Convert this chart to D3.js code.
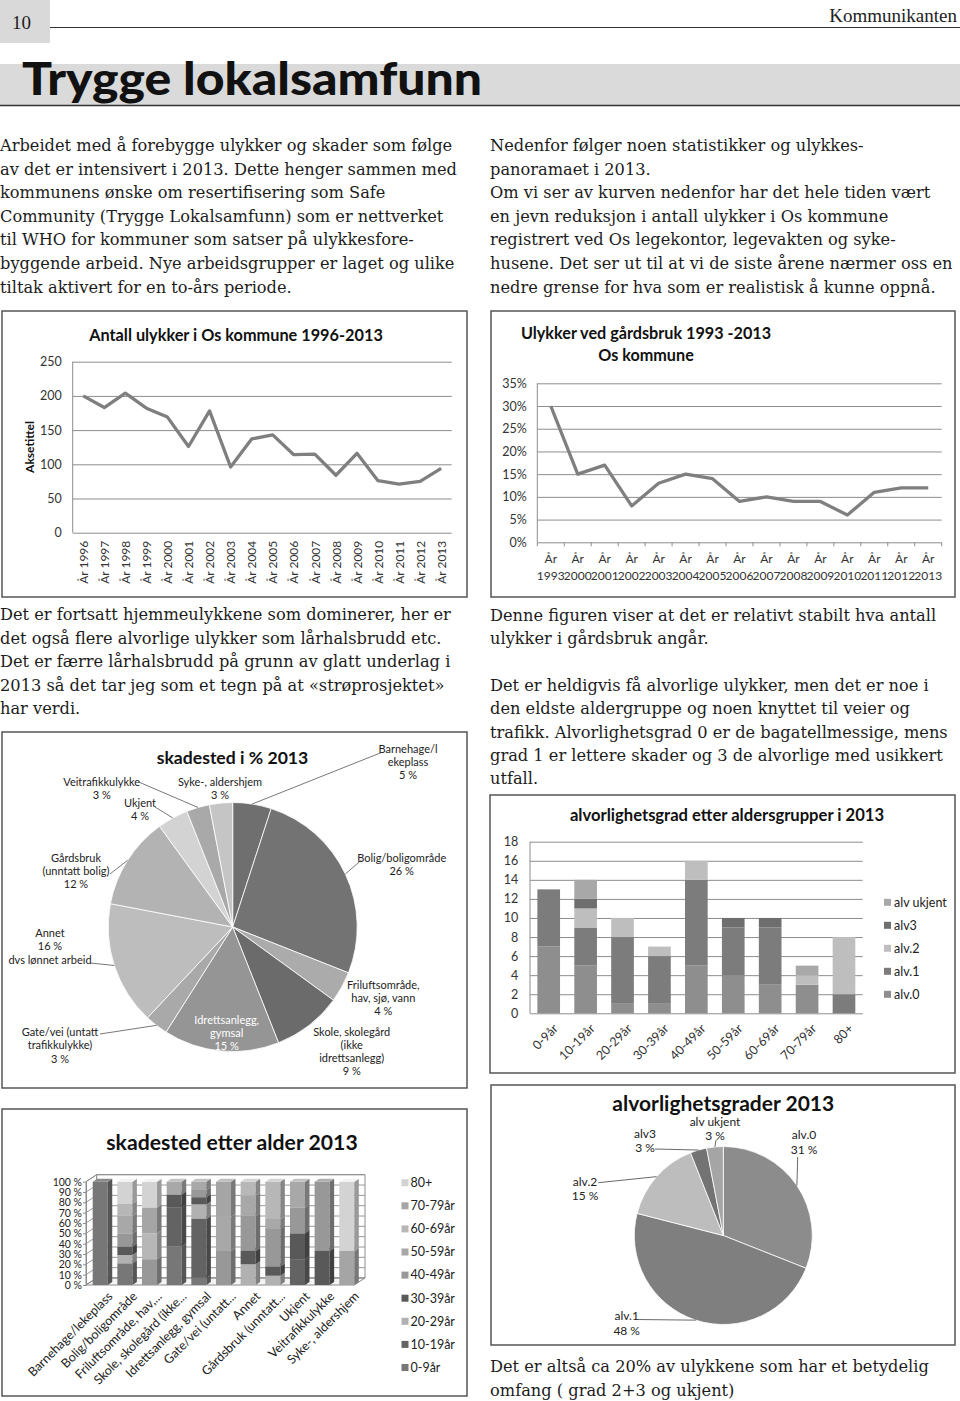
<!DOCTYPE html>
<html>
<head>
<meta charset="utf-8">
<script src="https://cdn.jsdelivr.net/npm/d3@7"></script>
<style>
  body { margin: 0; background: #fff; }
  svg { display: block; }
</style>
</head>
<body>
<script>
// ---------- data ----------
const ulykkerAar = ["År 1996","År 1997","År 1998","År 1999","År 2000","År 2001","År 2002","År 2003","År 2004",
  "År 2005","År 2006","År 2007","År 2008","År 2009","År 2010","År 2011","År 2012","År 2013"];
const ulykkerAntall = [200,183,204,182,169,126,178,96,137,143,114,115,84,116,76,71,75,94];

const gardAar = ["1993","2000","2001","2002","2003","2004","2005","2006","2007","2008","2009","2010","2011","2012","2013"];
const gardProsent = [30,15,17,8,13,15,14,9,10,9,9,6,11,12,12];

const skadesteder = ["Barnehage/lekeplass","Bolig/boligområde","Friluftsområde, hav, sjø, vann",
  "Skole, skolegård (ikke idrettsanlegg)","Idrettsanlegg, gymsal","Gate/vei (untatt trafikkulykke)",
  "Annet","Gårdsbruk (unntatt bolig)","Ukjent","Veitrafikkulykke","Syke-, aldershjem"];
const skadestedProsent = [5,26,4,9,15,3,16,12,4,3,3];
const skadestedEtikett = [["Barnehage/l","ekeplass"],["Bolig/boligområde"],["Friluftsområde,","hav, sjø, vann"],
  ["Skole, skolegård","(ikke","idrettsanlegg)"],["Idrettsanlegg,","gymsal"],["Gate/vei (untatt","trafikkulykke)"],
  ["Annet","%","dvs lønnet arbeid"],["Gårdsbruk","(unntatt bolig)"],["Ukjent"],["Veitrafikkulykke"],["Syke-, aldershjem"]];

const aldersgrupper = ["0-9år","10-19år","20-29år","30-39år","40-49år","50-59år","60-69år","70-79år","80+"];
const alvGrader = ["alv.0","alv.1","alv.2","alv3","alv ukjent"];
const alv0 = [7,5,1,1,5,4,3,3,0];
const alv1 = [6,4,7,5,9,5,6,0,2];
const alv2 = [0,2,2,1,2,0,0,1,6];
const alv3 = [0,1,0,0,0,1,1,0,0];
const alvUkjent = [0,2,0,0,0,0,0,1,0];

const skadestedKort = ["Barnehage/lekeplass","Bolig/boligområde","Friluftsområde, hav,...","Skole, skolegård (ikke...",
  "Idrettsanlegg, gymsal","Gate/vei (untatt...","Annet","Gårdsbruk (unntatt...","Ukjent","Veitrafikkulykke","Syke-, aldershjem"];
// percent of each place by age group
const andel0_9   = [100,21,0,37.5,7,0,0,0,0,0,0];
const andel10_19 = [0,0,0,37.5,57,0,0,0,25,0,0];
const andel20_29 = [0,8,0,0,14,0,20,9,0,0,0];
const andel30_39 = [0,8,0,12.5,7,0,13,9,25,33,0];
const andel40_49 = [0,13,25,0,7,33,34,37,25,67,0];
const andel50_59 = [0,17,0,12.5,8,33,20,9,25,0,0];
const andel60_69 = [0,12,25,0,0,0,13,36,0,0,0];
const andel70_79 = [0,0,25,0,0,34,0,0,0,0,33];
const andel80    = [0,21,25,0,0,0,0,0,0,0,67];

const alvAndel = [31,48,15,3,3];

// ---------- setup ----------
const svg = d3.select("body").append("svg")
    .attr("width", 960)
    .attr("height", 1401)
    .style("background", "#fff");

const sans = "Lato, 'Open Sans', sans-serif";
const serif = "'DejaVu Serif', serif";
const ink = "#1c1c1c";

function frame(x, y, w, h) {
    svg.append("rect").attr("x", x).attr("y", y).attr("width", w).attr("height", h)
        .attr("fill", "none").attr("stroke", "#4a4a4a").attr("stroke-width", 1.4);
}

function title(txt, x, y, size) {
    svg.append("text").attr("x", x).attr("y", y).attr("text-anchor", "middle")
        .attr("dy", "0.35em").attr("fill", "#111")
        .style("font", `bold ${size}px ${sans}`).text(txt);
}

// ---------- page header ----------
svg.append("rect").attr("x", 0).attr("y", 0).attr("width", 50).attr("height", 43).attr("fill", "#d9d9d9");
svg.append("text").attr("x", 12).attr("y", 29).attr("fill", ink)
    .style("font", "19px 'Liberation Serif', serif").text("10");
svg.append("line").attr("x1", 50).attr("x2", 960).attr("y1", 27.5).attr("y2", 27.5)
    .attr("stroke", "#333").attr("stroke-width", 1.2);
svg.append("text").attr("x", 957).attr("y", 22).attr("text-anchor", "end").attr("fill", "#222")
    .style("font", "19px 'Liberation Serif', serif").text("Kommunikanten");

svg.append("rect").attr("x", 0).attr("y", 64).attr("width", 960).attr("height", 41).attr("fill", "#dadada");
svg.append("line").attr("x1", 0).attr("x2", 960).attr("y1", 105.5).attr("y2", 105.5)
    .attr("stroke", "#333").attr("stroke-width", 1.5);
svg.append("text").attr("x", 22).attr("y", 95).attr("fill", "#111")
    .attr("textLength", 460).attr("lengthAdjust", "spacingAndGlyphs")
    .style("font", `900 46px ${sans}`).text("Trygge lokalsamfunn");

// ---------- body text ----------
const tekstVenstre1 = ["Arbeidet med å forebygge ulykker og skader som følge",
  "av det er intensivert i 2013. Dette henger sammen med",
  "kommunens ønske om resertifisering som Safe",
  "Community (Trygge Lokalsamfunn) som er nettverket",
  "til WHO for kommuner som satser på ulykkesfore-",
  "byggende arbeid. Nye arbeidsgrupper er laget og ulike",
  "tiltak aktivert for en to-års periode."];
const tekstHoyre1 = ["Nedenfor følger noen statistikker og ulykkes-",
  "panoramaet i 2013.",
  "Om vi ser av kurven nedenfor har det hele tiden vært",
  "en jevn reduksjon i antall ulykker i Os kommune",
  "registrert ved Os legekontor, legevakten og syke-",
  "husene. Det ser ut til at vi de siste årene nærmer oss en",
  "nedre grense for hva som er realistisk å kunne oppnå."];
const tekstVenstre2 = ["Det er fortsatt hjemmeulykkene som dominerer, her er",
  "det også flere alvorlige ulykker som lårhalsbrudd etc.",
  "Det er færre lårhalsbrudd på grunn av glatt underlag i",
  "2013 så det tar jeg som et tegn på at «strøprosjektet»",
  "har verdi."];
const tekstHoyre2 = ["Denne figuren viser at det er relativt stabilt hva antall",
  "ulykker i gårdsbruk angår.",
  "",
  "Det er heldigvis få alvorlige ulykker, men det er noe i",
  "den eldste aldergruppe og noen knyttet til veier og",
  "trafikk. Alvorlighetsgrad 0 er de bagatellmessige, mens",
  "grad 1 er lettere skader og 3 de alvorlige med usikkert",
  "utfall."];
const tekstHoyre3 = ["Det er altså ca 20% av ulykkene som har et betydelig",
  "omfang ( grad 2+3 og ukjent)"];

const bodyTexts = [];
function textBlock(lines, x, y0, lh) {
    lines.forEach((t, i) => {
        if (!t) return;
        const el = svg.append("text").datum({x: x, y: y0 + i * lh})
            .attr("fill", ink).style("font", `17.5px ${serif}`).text(t);
        bodyTexts.push(el);
    });
}
textBlock(tekstVenstre1, 0, 151, 23.6);
textBlock(tekstHoyre1, 490, 151, 23.6);
textBlock(tekstVenstre2, 0, 620, 23.6);
textBlock(tekstHoyre2, 490, 621, 23.3);
textBlock(tekstHoyre3, 490, 1372, 23.5);

// squeeze the serif horizontally so the longest line fills the column
const refLine = bodyTexts.find(t => t.text().startsWith("husene."));
const k = 463 / refLine.node().getComputedTextLength();
bodyTexts.forEach(t => t.attr("transform", d => `translate(${d.x},${d.y}) scale(${k},1)`));

// ---------- chart 1: Antall ulykker ----------
frame(2, 311, 465, 286);
{
    const g = svg.append("g");
    const x = d3.scalePoint().domain(ulykkerAar).range([72.7, 451.7]).padding(0.5);
    const y = d3.scaleLinear().domain([0, 250]).range([532.7, 361.7]);

    g.append("g").attr("transform", "translate(72.7,0)")
        .call(d3.axisLeft(y).tickValues(d3.range(0, 251, 50)).tickSize(-379).tickPadding(11))
        .call(a => a.select(".domain").remove())
        .call(a => a.selectAll(".tick line").attr("stroke", "#8d8d8d"))
        .call(a => a.selectAll(".tick text").attr("fill", "#333").style("font", `12.5px ${sans}`));
    g.append("line").attr("x1", 72.7).attr("x2", 72.7).attr("y1", y(250)).attr("y2", y(0)).attr("stroke", "#8d8d8d");

    g.append("g").attr("transform", `translate(0,${y(0)})`)
        .call(d3.axisBottom(x).tickSize(0))
        .call(a => a.select(".domain").remove())
        .call(a => a.selectAll(".tick text")
            .attr("transform", "rotate(-90)").attr("x", -8).attr("y", 0).attr("dy", "0.35em")
            .style("text-anchor", "end").attr("fill", "#333").style("font", `12px ${sans}`));

    g.append("path").datum(ulykkerAntall)
        .attr("fill", "none").attr("stroke", "#7f7f7f").attr("stroke-width", 3.3)
        .attr("stroke-linejoin", "round")
        .attr("d", d3.line().x((d, i) => x(ulykkerAar[i])).y(d => y(d)));

    g.append("text").attr("transform", "translate(30,447) rotate(-90)").attr("text-anchor", "middle")
        .attr("dy", "0.35em").attr("fill", "#111").style("font", `bold 12px ${sans}`).text("Aksetittel");
    title("Antall ulykker i Os kommune 1996-2013", 236, 335, 16.3);
}

// ---------- chart 2: Ulykker ved gårdsbruk ----------
frame(491, 311, 464, 286);
{
    const g = svg.append("g");
    const x = d3.scaleBand().domain(gardAar).range([537.3, 941.7]);
    const y = d3.scaleLinear().domain([0, 35]).range([542.3, 383.3]);

    g.append("g").attr("transform", "translate(537.3,0)")
        .call(d3.axisLeft(y).tickValues(d3.range(0, 36, 5)).tickFormat(d => d + "%").tickSize(-404.4).tickPadding(10.6))
        .call(a => a.select(".domain").remove())
        .call(a => a.selectAll(".tick line").attr("stroke", "#8d8d8d"))
        .call(a => a.selectAll(".tick text").attr("fill", "#333").style("font", `12.5px ${sans}`));
    g.append("line").attr("x1", 537.3).attr("x2", 537.3).attr("y1", y(35)).attr("y2", y(0)).attr("stroke", "#8d8d8d");

    // tick marks at band boundaries
    g.selectAll("line.bt").data(gardAar.concat(["end"])).join("line")
        .attr("x1", d => d === "end" ? 941.7 : x(d)).attr("x2", d => d === "end" ? 941.7 : x(d))
        .attr("y1", y(0)).attr("y2", y(0) + 4).attr("stroke", "#8d8d8d");

    g.append("g").attr("transform", `translate(0,${y(0)})`)
        .call(d3.axisBottom(x).tickSize(0))
        .call(a => a.select(".domain").remove())
        .call(a => a.selectAll(".tick text").each(function (d) {
            const t = d3.select(this).text(null).attr("y", 0).attr("dy", null)
                .attr("fill", "#333").style("font", `12px ${sans}`);
            t.append("tspan").attr("x", 0).attr("y", 21).text("År");
            t.append("tspan").attr("x", 0).attr("y", 37.5).text(d);
        }));

    g.append("path").datum(gardProsent)
        .attr("fill", "none").attr("stroke", "#7f7f7f").attr("stroke-width", 3.3)
        .attr("stroke-linejoin", "round")
        .attr("d", d3.line().x((d, i) => x(gardAar[i]) + x.bandwidth() / 2).y(d => y(d)));

    title("Ulykker ved gårdsbruk 1993 -2013", 646, 333, 16.2);
    title("Os kommune", 646, 355, 16.2);
}

// ---------- chart 3: skadested i % 2013 ----------
frame(2, 732, 465, 356);
{
    const g = svg.append("g");
    const cx = 232.7, cy = 927, r = 124.5;
    const farge = ["#6f6f6f","#737373","#ababab","#6b6b6b","#959595","#a9a9a9","#bdbdbd","#b3b3b3","#d3d3d3","#a9a9a9","#c5c5c5"];
    const arcs = d3.pie().sort(null).value(d => d)(skadestedProsent);
    g.append("g").attr("transform", `translate(${cx},${cy})`)
        .selectAll("path").data(arcs).join("path")
        .attr("d", d3.arc().innerRadius(0).outerRadius(r))
        .attr("fill", (d, i) => farge[i]).attr("stroke", "#fff").attr("stroke-width", 0.8);

    const lay = [
        {x: 408, y: 749, end: [381.5, 752.5]},
        {x: 401.7, y: 858, end: [361.5, 860]},
        {x: 383.3, y: 985},
        {x: 351.7, y: 1031.7},
        {x: 226.7, y: 1020, fill: "#fff"},
        {x: 60, y: 1032.3, end: [100, 1034]},
        {x: 50, y: 933.3, end: [90, 963]},
        {x: 76, y: 857.7, end: [110, 874]},
        {x: 140, y: 803.3, end: [155, 807]},
        {x: 101.7, y: 781.7, end: [138, 781.7]},
        {x: 220, y: 781.7}
    ];
    arcs.forEach((d, i) => {
        const L = lay[i];
        let lines = skadestedEtikett[i].map(s => s === "%" ? d.data + " %" : s);
        if (!skadestedEtikett[i].includes("%")) lines = lines.concat([d.data + " %"]);
        const t = g.append("text").attr("text-anchor", "middle").attr("fill", L.fill || "#222")
            .style("font", `11px ${sans}`);
        lines.forEach((s, j) => t.append("tspan").attr("x", L.x).attr("y", L.y + j * 13.3).attr("dy", "0.35em").text(s));
        if (L.end) {
            const a = (d.startAngle + d.endAngle) / 2;
            g.append("polyline")
                .attr("points", `${L.end[0]},${L.end[1]} ${cx + r * Math.sin(a)},${cy - r * Math.cos(a)}`)
                .attr("fill", "none").attr("stroke", "#555").attr("stroke-width", 0.8);
        }
    });
    title("skadested i % 2013", 232.5, 758, 17.6);
}

// ---------- chart 4: alvorlighetsgrad etter aldersgrupper ----------
frame(490, 795, 465, 278);
{
    const g = svg.append("g");
    const farge = {"alv.0": "#8e8e8e", "alv.1": "#7c7c7c", "alv.2": "#bebebe", "alv3": "#6e6e6e", "alv ukjent": "#a8a8a8"};
    const rows = aldersgrupper.map((a, i) => ({gruppe: a, "alv.0": alv0[i], "alv.1": alv1[i],
        "alv.2": alv2[i], "alv3": alv3[i], "alv ukjent": alvUkjent[i]}));
    const series = d3.stack().keys(alvGrader)(rows);
    const x = d3.scaleBand().domain(aldersgrupper).range([530, 862.7]).paddingInner(0.386).paddingOuter(0.2);
    const y = d3.scaleLinear().domain([0, 18]).range([1013.3, 841.7]);

    g.append("g").attr("transform", "translate(530,0)")
        .call(d3.axisLeft(y).tickValues(d3.range(0, 19, 2)).tickSize(-332.7).tickPadding(11.7))
        .call(a => a.select(".domain").remove())
        .call(a => a.selectAll(".tick line").attr("stroke", "#8d8d8d"))
        .call(a => a.selectAll(".tick text").attr("fill", "#333").style("font", `12.5px ${sans}`));
    g.append("line").attr("x1", 530).attr("x2", 530).attr("y1", y(18)).attr("y2", y(0)).attr("stroke", "#8d8d8d");

    g.selectAll("g.s").data(series).join("g").attr("fill", s => farge[s.key])
        .selectAll("rect").data(s => s).join("rect")
        .attr("x", d => x(d.data.gruppe)).attr("width", x.bandwidth())
        .attr("y", d => y(d[1])).attr("height", d => y(d[0]) - y(d[1]));

    g.append("g").attr("transform", `translate(0,${y(0)})`)
        .call(d3.axisBottom(x).tickSize(0))
        .call(a => a.select(".domain").remove())
        .call(a => a.selectAll(".tick text")
            .attr("transform", "translate(7,13) rotate(-45)").attr("x", 0).attr("y", 0).attr("dy", "0.35em")
            .style("text-anchor", "end").attr("fill", "#333").style("font", `12.5px ${sans}`));

    const leg = g.selectAll("g.leg").data(alvGrader.slice().reverse()).join("g")
        .attr("transform", (d, i) => `translate(884,${902.3 + i * 23})`);
    leg.append("rect").attr("x", 0).attr("y", -3.5).attr("width", 7).attr("height", 7).attr("fill", d => farge[d]);
    leg.append("text").attr("x", 10).attr("dy", "0.35em").attr("fill", "#222")
        .style("font", `12.5px ${sans}`).text(d => d);

    title("alvorlighetsgrad etter aldersgrupper i 2013", 727, 815, 16.6);
}

// ---------- chart 5: skadested etter alder (3D 100% stacked) ----------
frame(2, 1109, 465, 287);
{
    const g = svg.append("g");
    const farge = {"0-9år": "#777777", "10-19år": "#636363", "20-29år": "#b1b1b1", "30-39år": "#595959",
        "40-49år": "#989898", "50-59år": "#a8a8a8", "60-69år": "#b7b7b7", "70-79år": "#a5a5a5", "80+": "#d3d3d3"};
    const kolonner = [andel0_9, andel10_19, andel20_29, andel30_39, andel40_49, andel50_59, andel60_69, andel70_79, andel80];
    const rows = skadestedKort.map((s, i) => {
        const o = {sted: s};
        aldersgrupper.forEach((a, j) => { o[a] = kolonner[j][i]; });
        return o;
    });
    const series = d3.stack().keys(aldersgrupper)(rows);
    const x = d3.scaleBand().domain(skadestedKort).range([85.3, 361.7]).paddingInner(0.39).paddingOuter(0.3);
    const y = d3.scaleLinear().domain([0, 100]).range([1285, 1181.7]);
    const wx = 10.7, wy = -7;      // wall depth
    const bx = 4.5, by = -3;       // bar depth
    const left = 86, right = 365;

    // walls and floor
    g.append("path").attr("d", `M${left},${y(0)}L${left + wx},${y(0) + wy}L${left + wx},${y(100) + wy}L${left},${y(100)}Z`)
        .attr("fill", "#fff").attr("stroke", "#8d8d8d");
    g.append("path").attr("d", `M${left + wx},${y(0) + wy}L${right},${y(0) + wy}L${right},${y(100) + wy}L${left + wx},${y(100) + wy}Z`)
        .attr("fill", "#fff").attr("stroke", "#8d8d8d");
    g.append("path").attr("d", `M${left},${y(0)}L${right - wx},${y(0)}L${right},${y(0) + wy}L${left + wx},${y(0) + wy}Z`)
        .attr("fill", "#f4f4f4").attr("stroke", "#8d8d8d");
    g.selectAll("path.grid").data(y.ticks(10)).join("path")
        .attr("d", t => `M${left},${y(t)}L${left + wx},${y(t) + wy}L${right},${y(t) + wy}`)
        .attr("fill", "none").attr("stroke", "#8d8d8d").attr("stroke-width", 0.9);

    g.append("g").attr("transform", `translate(${left},0)`)
        .call(d3.axisLeft(y).ticks(10).tickFormat(d => d + " %").tickSize(3).tickSizeOuter(0).tickPadding(1))
        .call(a => a.select(".domain").attr("stroke", "#8d8d8d"))
        .call(a => a.selectAll(".tick line").attr("stroke", "#8d8d8d"))
        .call(a => a.selectAll(".tick text").attr("fill", "#222").style("font", `10.5px ${sans}`));

    const bw = x.bandwidth();
    series.forEach(s => {
        const c = d3.color(farge[s.key]);
        s.forEach(d => {
            if (d[1] - d[0] <= 0) return;
            const x0 = x(d.data.sted), yt = y(d[1]), yb = y(d[0]);
            g.append("rect").attr("x", x0).attr("y", yt).attr("width", bw).attr("height", yb - yt).attr("fill", c);
            g.append("path").attr("d", `M${x0 + bw},${yt}L${x0 + bw + bx},${yt + by}L${x0 + bw + bx},${yb + by}L${x0 + bw},${yb}Z`)
                .attr("fill", c.darker(0.9));
            g.append("path").attr("d", `M${x0},${yt}L${x0 + bx},${yt + by}L${x0 + bw + bx},${yt + by}L${x0 + bw},${yt}Z`)
                .attr("fill", c.brighter(0.4));
        });
    });

    g.append("g").attr("transform", `translate(0,${y(0)})`)
        .call(d3.axisBottom(x).tickSize(0))
        .call(a => a.select(".domain").remove())
        .call(a => a.selectAll(".tick text")
            .attr("transform", "translate(10,9) rotate(-45)").attr("x", 0).attr("y", 0).attr("dy", "0.35em")
            .style("text-anchor", "end").attr("fill", "#222").style("font", `12.5px ${sans}`));

    const leg = g.selectAll("g.leg").data(aldersgrupper.slice().reverse()).join("g")
        .attr("transform", (d, i) => `translate(401.5,${1182.7 + i * 23.1})`);
    leg.append("rect").attr("x", 0).attr("y", -3.5).attr("width", 7).attr("height", 7).attr("fill", d => farge[d]);
    leg.append("text").attr("x", 9).attr("dy", "0.35em").attr("fill", "#222")
        .style("font", `12.5px ${sans}`).text(d => d);

    title("skadested etter alder 2013", 232, 1142.7, 21.2);
}

// ---------- chart 6: alvorlighetsgrader 2013 ----------
frame(491, 1085, 464, 260);
{
    const g = svg.append("g");
    const cx = 723.3, cy = 1235.5, r = 89;
    const farge = ["#8c8c8c", "#7f7f7f", "#bdbdbd", "#737373", "#a5a5a5"];
    const arcs = d3.pie().sort(null).value(d => d)(alvAndel);
    g.append("g").attr("transform", `translate(${cx},${cy})`)
        .selectAll("path").data(arcs).join("path")
        .attr("d", d3.arc().innerRadius(0).outerRadius(r))
        .attr("fill", (d, i) => farge[i]).attr("stroke", "#fff").attr("stroke-width", 0.8);

    const lay = [
        {x: 804, y: 1135, end: [797.7, 1157]},
        {x: 626.7, y: 1316, end: [636.7, 1319.5]},
        {x: 585, y: 1181.7, end: [598.3, 1182.7]},
        {x: 645, y: 1133.3, end: [655, 1149]},
        {x: 715, y: 1121.5, end: [716, 1140]}
    ];
    arcs.forEach((d, i) => {
        const L = lay[i];
        const t = g.append("text").attr("text-anchor", "middle").attr("fill", "#222").style("font", `12px ${sans}`);
        [alvGrader[i], d.data + " %"].forEach((s, j) =>
            t.append("tspan").attr("x", L.x).attr("y", L.y + j * 14.5).attr("dy", "0.35em").text(s));
        const a = (d.startAngle + d.endAngle) / 2;
        g.append("polyline")
            .attr("points", `${L.end[0]},${L.end[1]} ${cx + r * Math.sin(a)},${cy - r * Math.cos(a)}`)
            .attr("fill", "none").attr("stroke", "#444").attr("stroke-width", 0.8);
    });
    title("alvorlighetsgrader 2013", 723.3, 1103.3, 21);
}
</script>
</body>
</html>
